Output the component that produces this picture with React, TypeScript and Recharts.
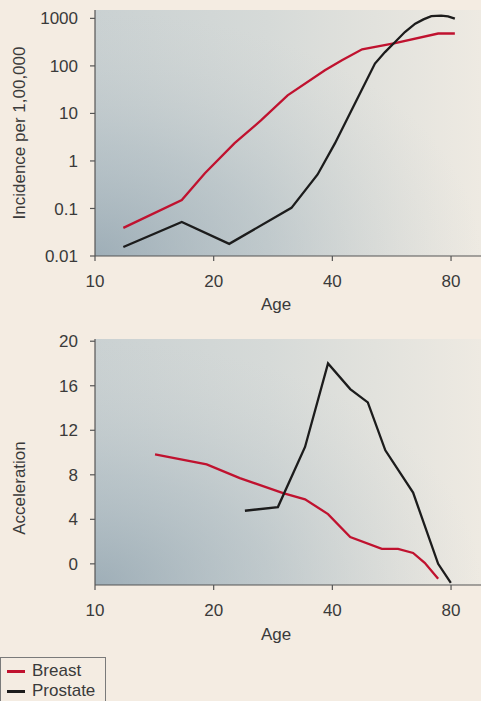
import React from "react";
import {
  LineChart,
  Line,
  XAxis,
  YAxis,
  CartesianGrid,
  ReferenceArea,
} from "recharts";

// top panel: incidence per 1,00,000 (log scale)
const breastIncAge = [11.8, 16.6, 19.0, 22.6, 26.4, 30.8, 38.3, 42.3, 47.6, 57.7, 74.2, 81.8];
const breastInc = [0.039, 0.15, 0.55, 2.37, 7.2, 24, 81, 131, 223, 303, 480, 480];
const prostateIncAge = [11.8, 16.6, 21.9, 31.5, 36.7, 40.6, 45.6, 51.3, 54.4, 57.7, 61.1, 64.9, 68.1, 71.3, 75.5, 78.6, 81.8];
const prostateInc = [0.0155, 0.052, 0.018, 0.103, 0.52, 2.34, 16, 112, 195, 318, 515, 774, 953, 1117, 1140, 1102, 986];

// bottom panel: acceleration
const breastAccAge = [14.2, 19.2, 23.3, 30, 34.1, 39, 44.4, 53.4, 58.7, 64.1, 68.6, 74.2];
const breastAcc = [9.84, 8.94, 7.7, 6.35, 5.8, 4.47, 2.4, 1.34, 1.34, 0.98, 0.09, -1.34];
const prostateAccAge = [24, 29.1, 34.1, 39, 44.4, 49.2, 54.5, 64.1, 74.2, 79.9];
const prostateAcc = [4.77, 5.1, 10.5, 18.0, 15.7, 14.5, 10.2, 6.4, 0, -1.7];

const ageTicks = [10, 20, 40, 80];
const incTicks = [0.01, 0.1, 1, 10, 100, 1000];
const accTicks = [0, 4, 8, 12, 16, 20];

const ageDomain = [10, 95.3];
const incDomain = [0.01, 1500];
const accDomain = [-1.9, 20.2];

const seriesNames = ["Breast", "Prostate"];
const RED = "#c0122f";
const BLACK = "#1c1c1c";
const TEXT = "#3a3a3a";
const AXIS = "#555";

const zip = (xs: number[], ys: number[]) => xs.map((age, i) => ({ age, v: ys[i] }));

const VLabel = ({ text, cx, cy }: any) => (
  <text
    transform={`translate(${cx},${cy}) rotate(-90)`}
    textAnchor="middle"
    dominantBaseline="central"
    fill={TEXT}
    fontSize={17}
  >
    {text}
  </text>
);

const Backdrop = ({ id }: { id: string }) => (
  <defs>
    <linearGradient id={`lin-${id}`} x1="0" y1="0" x2="1" y2="0">
      <stop offset="0" stopColor="#cad1d2" />
      <stop offset="0.45" stopColor="#d6dad8" />
      <stop offset="1" stopColor="#eeeae2" />
    </linearGradient>
    <radialGradient id={`rad-${id}`} cx="0" cy="1" r="1">
      <stop offset="0" stopColor="#8a9eab" stopOpacity={0.68} />
      <stop offset="0.45" stopColor="#9fb0ba" stopOpacity={0.4} />
      <stop offset="1" stopColor="#c4ccce" stopOpacity={0} />
    </radialGradient>
  </defs>
);

const axisProps = {
  axisLine: { stroke: AXIS, strokeWidth: 1.2 },
  tickLine: { stroke: AXIS, strokeWidth: 1.2 },
  tick: { fill: TEXT, fontSize: 17 },
  tickSize: 5,
};

export default function App() {
  return (
    <div
      style={{
        position: "absolute",
        left: 0,
        top: 0,
        width: 481,
        height: 701,
        background: "#f4ece2",
        fontFamily: "'Liberation Sans', Arial, sans-serif",
        overflow: "hidden",
      }}
    >
      <LineChart width={481} height={320} margin={{ top: 10, right: 0, bottom: 0, left: 0 }}>
        <Backdrop id="top" />
        <CartesianGrid horizontal={false} vertical={false} fill="url(#lin-top)" stroke="none" />
        <ReferenceArea
          x1={ageDomain[0]}
          x2={ageDomain[1]}
          y1={incDomain[0]}
          y2={incDomain[1]}
          fill="url(#rad-top)"
          fillOpacity={1}
          stroke="none"
        />
        <XAxis
          dataKey="age"
          type="number"
          scale="log"
          domain={ageDomain}
          ticks={ageTicks}
          allowDataOverflow
          height={64}
          tickMargin={14}
          label={{ value: "Age", position: "insideBottom", offset: 10, dx: -12, fill: TEXT, fontSize: 17 }}
          {...axisProps}
        />
        <YAxis
          dataKey="v"
          type="number"
          scale="log"
          domain={incDomain}
          ticks={incTicks}
          allowDataOverflow
          width={95}
          tickMargin={12}
          label={<VLabel text="Incidence per 1,00,000" cx={19} cy={133} />}
          {...axisProps}
        />
        <Line
          data={zip(breastIncAge, breastInc)}
          dataKey="v"
          type="linear"
          stroke={RED}
          strokeWidth={2.3}
          dot={false}
          isAnimationActive={false}
        />
        <Line
          data={zip(prostateIncAge, prostateInc)}
          dataKey="v"
          type="linear"
          stroke={BLACK}
          strokeWidth={2.3}
          dot={false}
          isAnimationActive={false}
        />
      </LineChart>

      <LineChart width={481} height={340} margin={{ top: 19, right: 0, bottom: 0, left: 0 }}>
        <Backdrop id="bot" />
        <CartesianGrid horizontal={false} vertical={false} fill="url(#lin-bot)" stroke="none" />
        <ReferenceArea
          x1={ageDomain[0]}
          x2={ageDomain[1]}
          y1={accDomain[0]}
          y2={accDomain[1]}
          fill="url(#rad-bot)"
          fillOpacity={1}
          stroke="none"
        />
        <XAxis
          dataKey="age"
          type="number"
          scale="log"
          domain={ageDomain}
          ticks={ageTicks}
          allowDataOverflow
          height={75}
          tickMargin={14}
          label={{ value: "Age", position: "insideBottom", offset: 20, dx: -12, fill: TEXT, fontSize: 17 }}
          {...axisProps}
        />
        <YAxis
          dataKey="v"
          type="number"
          domain={accDomain}
          ticks={accTicks}
          allowDataOverflow
          width={95}
          tickMargin={12}
          label={<VLabel text="Acceleration" cx={19} cy={168} />}
          {...axisProps}
        />
        <Line
          data={zip(breastAccAge, breastAcc)}
          dataKey="v"
          type="linear"
          stroke={RED}
          strokeWidth={2.3}
          dot={false}
          isAnimationActive={false}
        />
        <Line
          data={zip(prostateAccAge, prostateAcc)}
          dataKey="v"
          type="linear"
          stroke={BLACK}
          strokeWidth={2.3}
          dot={false}
          isAnimationActive={false}
        />
      </LineChart>

      <div
        style={{
          position: "absolute",
          left: 0,
          top: 657,
          width: 106,
          height: 50,
          border: "1px solid #7a7a7a",
          boxSizing: "border-box",
          paddingTop: 3,
          color: TEXT,
          fontSize: 17,
        }}
      >
        {seriesNames.map((name, i) => (
          <div key={name} style={{ position: "relative", height: 20, lineHeight: "20px" }}>
            <span
              style={{
                position: "absolute",
                left: 6,
                top: 9,
                width: 18,
                height: 2.5,
                background: i === 0 ? RED : BLACK,
              }}
            />
            <span style={{ position: "absolute", left: 31, top: 0 }}>{name}</span>
          </div>
        ))}
      </div>
    </div>
  );
}
